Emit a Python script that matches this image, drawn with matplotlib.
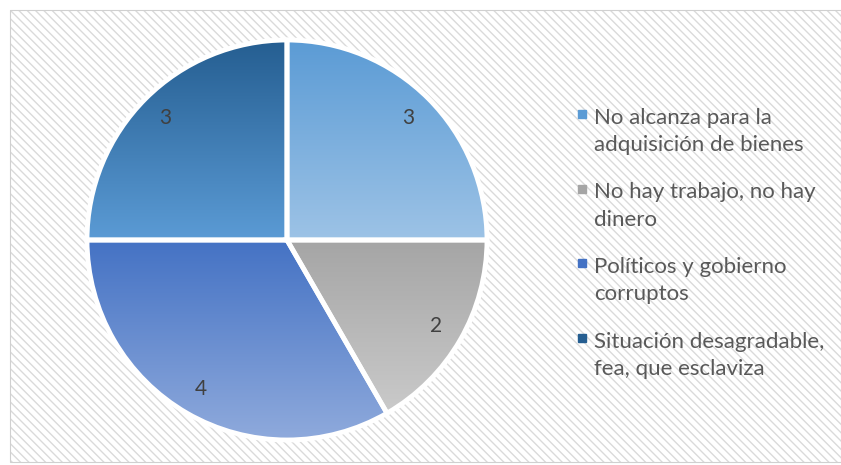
import numpy as np
import matplotlib.pyplot as plt
from matplotlib.colors import LinearSegmentedColormap
from matplotlib.lines import Line2D
from matplotlib.patches import Rectangle

plt.rcParams['font.family'] = ['Lato', 'DejaVu Sans']

# Datos
categorias = ['No alcanza para la\nadquisición de bienes',
              'No hay trabajo, no hay\ndinero',
              'Políticos y gobierno\ncorruptos',
              'Situación desagradable,\nfea, que esclaviza']
valores = [3, 2, 4, 3]

# Degradado de cada porción (arriba -> abajo)
colores_arriba = ['#5b9bd5', '#a5a5a5', '#4472c4', '#255e91']
colores_abajo = ['#9dc3e6', '#cacaca', '#8faadc', '#5b9bd5']
colores_leyenda = ['#5b9bd5', '#a5a5a5', '#4472c4', '#255e91']

W, H = 841, 465
fig = plt.figure(figsize=(W / 100, H / 100), dpi=100)

# Fondo con rayas diagonales
plt.rcParams['hatch.linewidth'] = 1.0
fondo = Rectangle((10 / W, 3 / H), 1 - 10 / W, 452 / H, transform=fig.transFigure,
                  facecolor='white', edgecolor='#dadada', hatch='\\\\\\\\', lw=0,
                  zorder=-5)
fig.patches.append(fondo)
borde = Rectangle((10 / W, 3 / H), 1 - 10 / W, 452 / H, transform=fig.transFigure,
                  facecolor='none', edgecolor='#d0d0d0', lw=0.8, zorder=-4)
fig.patches.append(borde)

# Ejes de la torta
cx, cy, r = 287, 240, 202
ax = fig.add_axes([(cx - r) / W, (H - cy - r) / H, 2 * r / W, 2 * r / H])
ax.set_facecolor('none')

wedges, _ = ax.pie(valores, startangle=90, counterclock=False,
                   colors=colores_leyenda,
                   wedgeprops=dict(edgecolor='white', linewidth=3.5))
ax.set_aspect('equal')
ax.axis('off')

# Relleno en degradado vertical para cada porción
for w, c1, c2 in zip(wedges, colores_arriba, colores_abajo):
    verts = w.get_path().vertices
    x0, x1 = verts[:, 0].min(), verts[:, 0].max()
    y0, y1 = verts[:, 1].min(), verts[:, 1].max()
    cmap = LinearSegmentedColormap.from_list('g', [c2, c1])
    grad = np.linspace(0, 1, 256).reshape(-1, 1)
    im = ax.imshow(grad, cmap=cmap, extent=[x0, x1, y0, y1], origin='lower',
                   aspect='auto', zorder=0.5)
    im.set_clip_path(w)
    w.set_facecolor('none')
    w.set_zorder(1)
ax.set_xlim(-1.01, 1.01)
ax.set_ylim(-1.01, 1.01)

# Etiquetas de datos
total = sum(valores)
inicio = 90
for v in valores:
    ang = np.deg2rad(inicio - 360 * v / total / 2)
    ax.text(0.86 * np.cos(ang), 0.86 * np.sin(ang), str(v), ha='center',
            va='center', fontsize=15, color='#404040', zorder=10)
    inicio -= 360 * v / total

# Leyenda (armada a mano para controlar el interlineado)
y0_leg, paso = 114, 74.5
for i, (cat, c) in enumerate(zip(categorias, colores_leyenda)):
    y = y0_leg + i * paso
    fig.add_artist(Line2D([582 / W], [1 - y / H], transform=fig.transFigure,
                          marker='s', markersize=5.5, linestyle='none',
                          markerfacecolor=c, markeredgecolor=c))
    fig.text(594 / W, 1 - (y - 6) / H, cat, ha='left', va='top', fontsize=16,
             color='#595959', linespacing=1.45)

fig.savefig('out.png', dpi=100)
